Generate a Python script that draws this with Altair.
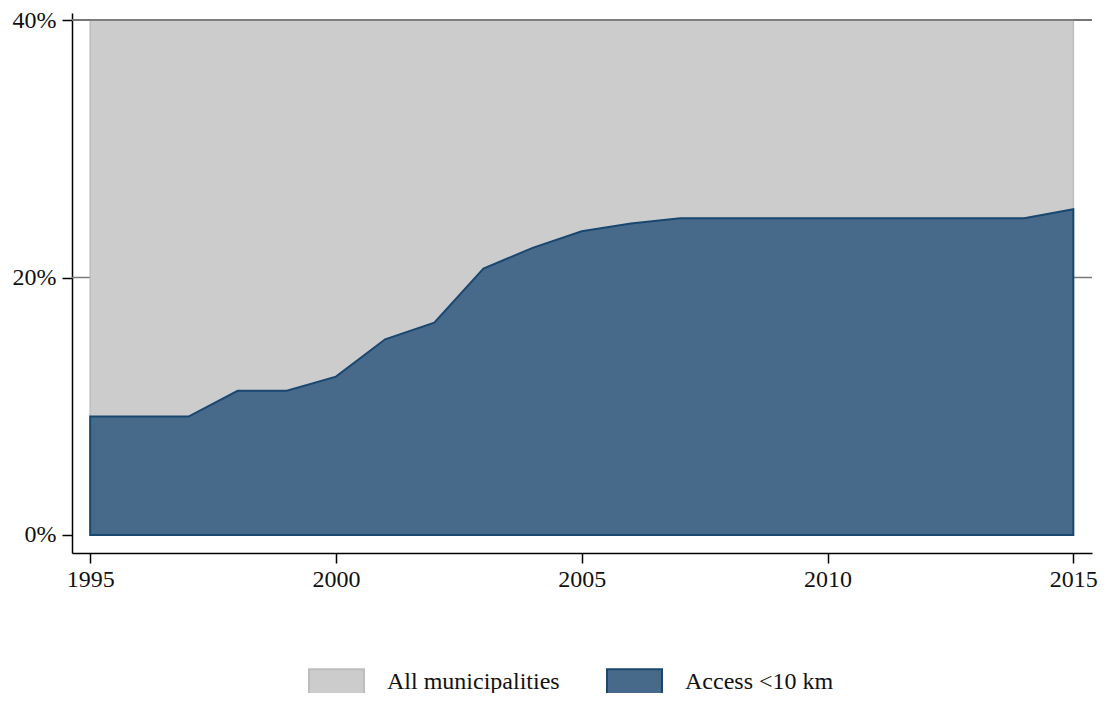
import altair as alt
import pandas as pd

years = list(range(1995, 2016))
all_muni = [40] * 21
access = [9.2, 9.2, 9.2, 11.2, 11.2, 12.3, 15.2, 16.5, 20.7, 22.3, 23.6, 24.2,
          24.6, 24.6, 24.6, 24.6, 24.6, 24.6, 24.6, 24.6, 25.3]
series_names = ["All municipalities", "Access <10 km"]
fill_colors = ["#cccccc", "#476a8b"]
stroke_colors = ["#bdbdbd", "#1a476f"]
grid_values = [20, 40]

rows = []
for y, a, b in zip(years, all_muni, access):
    rows.append({"year": y, "value": a, "series": series_names[0]})
    rows.append({"year": y, "value": b, "series": series_names[1]})
df = pd.DataFrame(rows)
grid_df = pd.DataFrame({"g": grid_values})

W, H = 1020, 540
FONT = "Liberation Serif"

xscale = alt.Scale(domain=[1994.63, 2015.38], nice=False, zero=False)
yscale = alt.Scale(domain=[-1.4, 40.55], nice=False, zero=False)

yaxis = alt.Axis(values=[0, 20, 40], labelExpr="datum.value + '%'", title=None,
                 grid=False, domainColor="#000000", domainWidth=1.5,
                 tickColor="#000000", tickWidth=1.5, tickSize=10,
                 labelFont=FONT, labelFontSize=24, labelColor="#111111",
                 labelPadding=6)
xaxis = alt.Axis(values=[1995, 2000, 2005, 2010, 2015], format="d", title=None,
                 grid=False, domainColor="#000000", domainWidth=1.5,
                 tickColor="#000000", tickWidth=1.5, tickSize=10,
                 labelFont=FONT, labelFontSize=24, labelColor="#111111",
                 labelPadding=4)

fill_enc = alt.Fill("series:N", scale=alt.Scale(domain=series_names, range=fill_colors),
                    legend=alt.Legend(title=None, orient="none", legendX=236, legendY=640,
                                      direction="horizontal",
                                      symbolType="M-1,-0.45L1,-0.45L1,0.45L-1,0.45Z",
                                      symbolSize=3025, symbolStrokeWidth=2,
                                      labelFont=FONT, labelFontSize=24, labelColor="#111111",
                                      labelOffset=22, columnPadding=43, labelLimit=400))
stroke_enc = alt.Stroke("series:N", scale=alt.Scale(domain=series_names, range=stroke_colors))

grid = alt.Chart(grid_df).mark_rule(color="#7a7a7a", strokeWidth=1.5).encode(
    y=alt.Y("g:Q", scale=yscale, axis=yaxis),
    x=alt.value(0), x2=alt.value(W))

base = alt.Chart(df)
gray = base.transform_filter(alt.datum.series == series_names[0]).mark_area(
    strokeWidth=1.5, opacity=1).encode(
    x=alt.X("year:Q", scale=xscale, axis=xaxis),
    y=alt.Y("value:Q", scale=yscale, stack=None),
    fill=fill_enc, stroke=stroke_enc)

blue = base.transform_filter(alt.datum.series == series_names[1]).mark_area(
    strokeWidth=2, opacity=1).encode(
    x=alt.X("year:Q", scale=xscale),
    y=alt.Y("value:Q", scale=yscale, stack=None),
    fill=fill_enc, stroke=stroke_enc)

top_rule = alt.Chart(pd.DataFrame({"g": [40]})).mark_rule(color="#6a6a6a", strokeWidth=1.5).encode(
    y=alt.Y("g:Q", scale=yscale), x=alt.value(0), x2=alt.value(W))

chart = alt.layer(grid, gray, blue, top_rule).properties(
    width=W, height=H,
    autosize=alt.AutoSizeParams(type="none"),
    padding={"left": 64, "top": 5, "right": 7, "bottom": 140},
).configure(background="white").configure_view(stroke=None)

chart.save("out.html", embed_options={"renderer": "svg", "actions": False})
